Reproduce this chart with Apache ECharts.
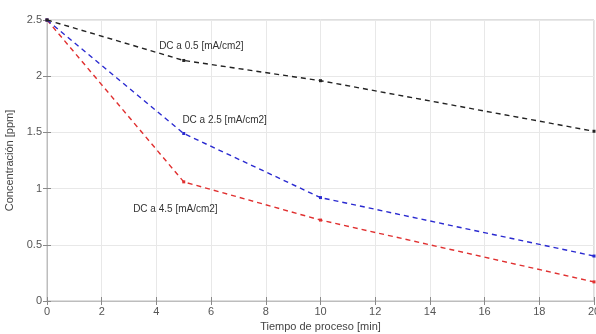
<!DOCTYPE html>
<html>
<head>
<meta charset="utf-8">
<script src="https://cdn.jsdelivr.net/npm/echarts@6/dist/echarts.min.js"></script>
<style>
  html, body { margin: 0; padding: 0; background: #fff; }
  #chart { width: 596px; height: 334px; }
</style>
</head>
<body>
<div id="chart"></div>
<script>
// process time [min]
const tiempo = [0, 5, 10, 20];
// concentration [ppm] per current density
const dc05 = [2.5, 2.14, 1.96, 1.51];
const dc25 = [2.5, 1.49, 0.92, 0.40];
const dc45 = [2.5, 1.06, 0.72, 0.17];

const seriesNames = ["DC a 0.5 [mA/cm2]", "DC a 2.5 [mA/cm2]", "DC a 4.5 [mA/cm2]"];
// where each text annotation sits, in data units [x, y]
const labelCoords = [[4.1, 2.27], [4.95, 1.61], [3.15, 0.82]];

const colors = ["#222222", "#2a2ad0", "#e03030"];
const values = [dc05, dc25, dc45];

const font = "'Liberation Sans', Arial, sans-serif";
const axisGray = "#8a8a8a";
const gridGray = "#e8e8e8";

const chart = echarts.init(document.getElementById("chart"), null, { renderer: "canvas" });

const makeSeries = (i) => ({
  name: seriesNames[i],
  type: "line",
  xAxisIndex: 0,
  yAxisIndex: 0,
  data: tiempo.map((t, k) => [t, values[i][k]]),
  symbol: "rect",
  symbolSize: 3,
  itemStyle: { color: colors[i] },
  lineStyle: { color: colors[i], width: 1.4, type: [5, 4] },
  z: 3 - i,
  markPoint: {
    symbol: "circle",
    symbolSize: 0,
    data: [{ coord: labelCoords[i] }],
    label: {
      show: true,
      position: "right",
      distance: 0,
      formatter: seriesNames[i],
      color: "#333",
      fontSize: 10,
      fontFamily: font,
    },
  },
});

const option = {
  animation: false,
  backgroundColor: "#fff",
  grid: {
    left: 47,
    right: 2,
    top: 20,
    bottom: 33,
    outerBoundsMode: "none",
    containLabel: false,
    show: true,
    borderColor: "#bdbdbd",
    borderWidth: 1,
  },
  xAxis: [
    {
      type: "value",
      min: 0,
      max: 20,
      interval: 2,
      name: "Tiempo de proceso [min]",
      nameLocation: "middle",
      nameGap: 18,
      nameTextStyle: { color: "#444", fontSize: 11, fontFamily: font },
      axisLine: { show: true, lineStyle: { color: axisGray } },
      axisTick: { show: true, inside: true, length: 4, lineStyle: { color: axisGray } },
      axisLabel: { color: "#555", fontSize: 11, fontFamily: font, margin: 5 },
      splitLine: { show: true, lineStyle: { color: gridGray, width: 1 } },
    },
    {
      type: "value",
      position: "top",
      min: 0,
      max: 20,
      interval: 2,
      axisLine: { show: true, lineStyle: { color: "#bdbdbd" } },
      axisTick: { show: true, inside: true, length: 4, lineStyle: { color: axisGray } },
      axisLabel: { show: false },
      splitLine: { show: false },
    },
  ],
  yAxis: [
    {
      type: "value",
      min: 0,
      max: 2.5,
      interval: 0.5,
      name: "Concentración [ppm]",
      nameLocation: "middle",
      nameGap: 30,
      nameTextStyle: { color: "#444", fontSize: 11, fontFamily: font },
      axisLine: { show: true, lineStyle: { color: axisGray } },
      axisTick: { show: true, inside: true, length: 4, lineStyle: { color: axisGray } },
      axisLabel: { color: "#555", fontSize: 11, fontFamily: font, margin: 5 },
      splitLine: { show: true, lineStyle: { color: gridGray, width: 1 } },
    },
    {
      type: "value",
      position: "right",
      min: 0,
      max: 2.5,
      interval: 0.5,
      axisLine: { show: true, lineStyle: { color: "#bdbdbd" } },
      axisTick: { show: true, inside: true, length: 4, lineStyle: { color: axisGray } },
      axisLabel: { show: false },
      splitLine: { show: false },
    },
  ],
  series: [makeSeries(0), makeSeries(1), makeSeries(2)],
};

chart.setOption(option);
</script>
</body>
</html>
